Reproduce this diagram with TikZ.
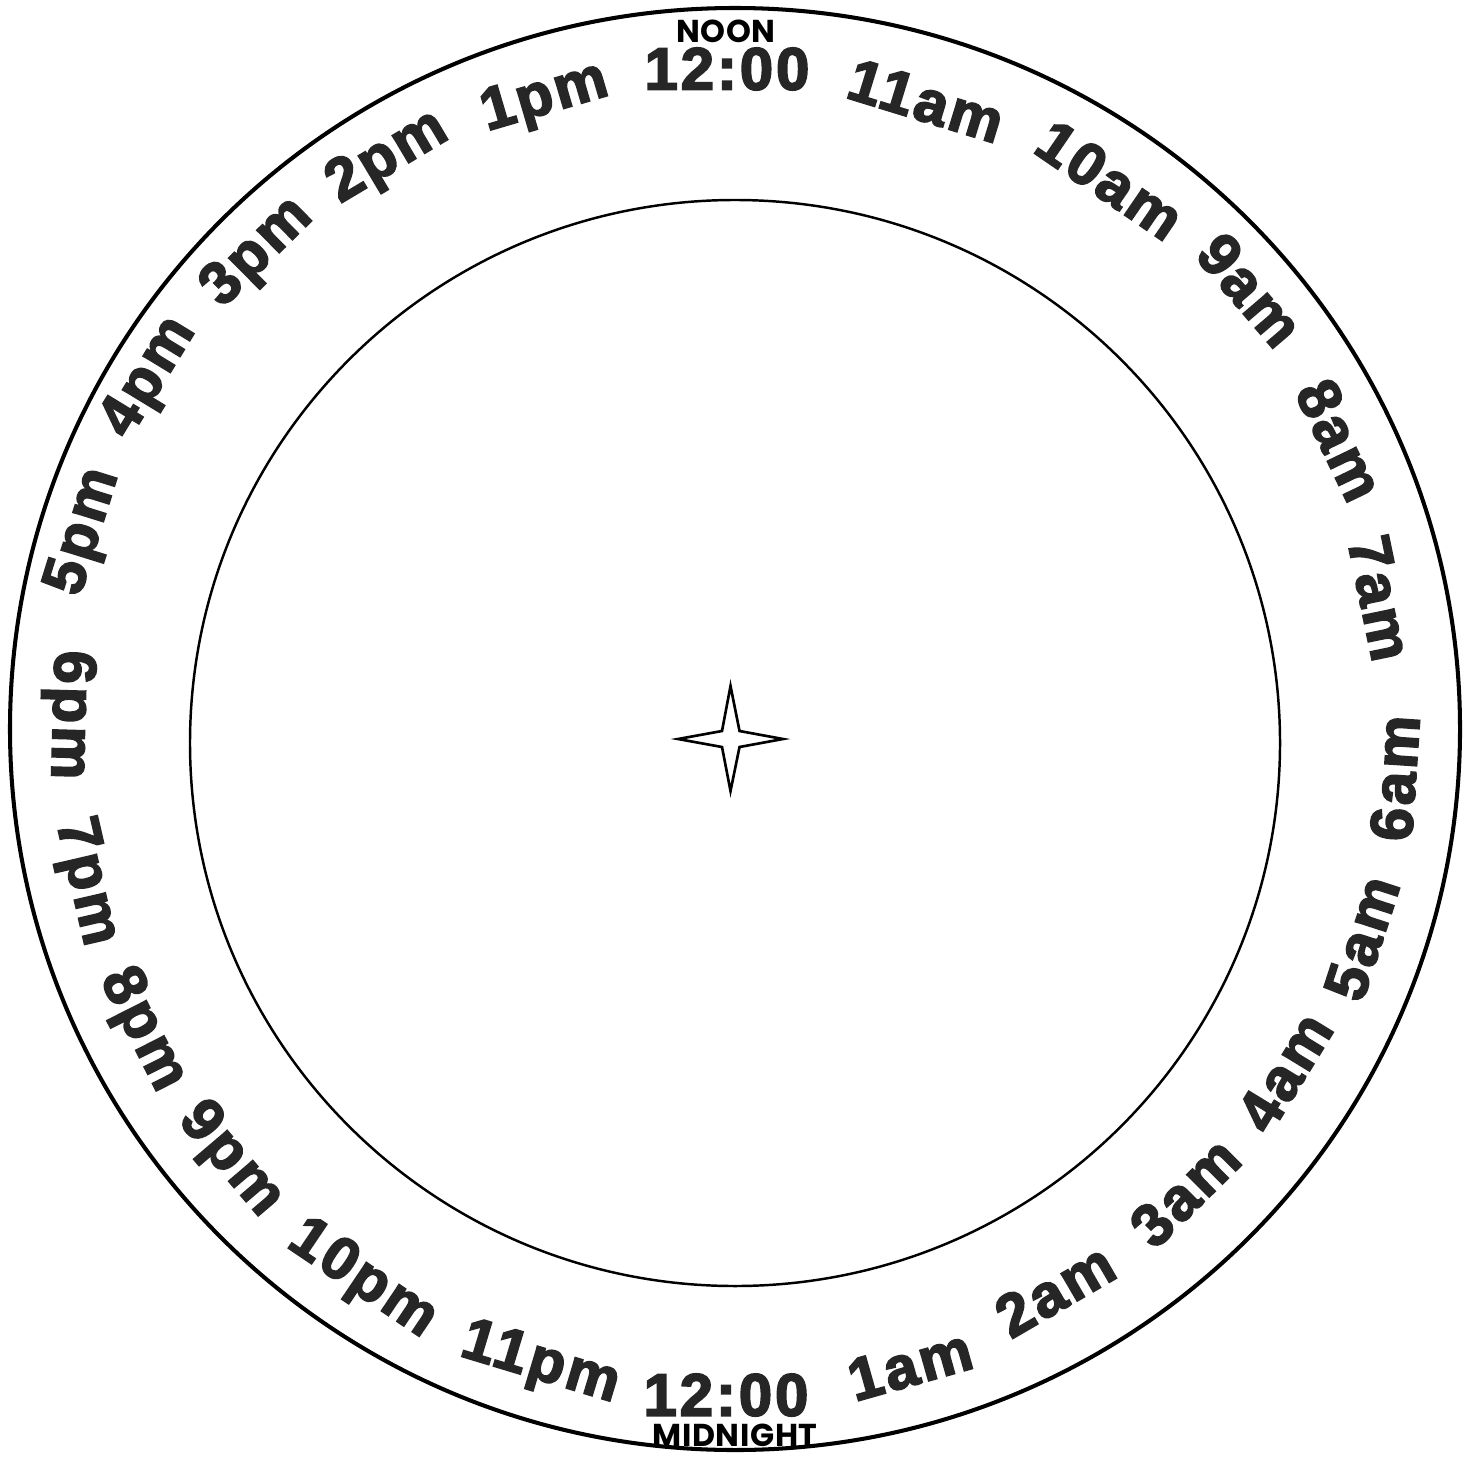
\documentclass[tikz,border=0pt]{standalone}
\usepackage{fontspec}
\setmainfont{Liberation Sans}
\newfontfamily\dialfont{Liberation Sans}[FakeBold=3,LetterSpace=5]
\newfontfamily\geofont{Poppins}[LetterSpace=2]
\begin{document}
\begin{tikzpicture}[x=0.01cm,y=-0.01cm,
  lbl/.style={inner sep=0pt, text=black!85, font=\dialfont\bfseries\fontsize{17pt}{17pt}\selectfont},
  captext/.style={inner sep=0pt, text=black, font=\geofont\bfseries\fontsize{9pt}{9pt}\selectfont},
  ring/.style={draw=black}]
\useasboundingbox[fill=white] (0,0) rectangle (1471,1458);
% rings
\draw[ring, line width=1.15pt] (735,729) ellipse [x radius=725, y radius=721];
\draw[ring, line width=0.7pt] (735,743) ellipse [x radius=545, y radius=543];
% centre star
\draw[line width=0.75pt, line join=miter] (730.5,686) -- (739.5,731) -- (783,739) -- (739.5,747)
  -- (730.5,791) -- (722,747) -- (678,739) -- (722,731) -- cycle;
% captions
\node[captext] (noon) at (726,31) {NOON};
\node[captext] (midnight) at (735,1435) {MIDNIGHT};
% hour labels, upper half
\node[lbl] (h12top) at (727,69) {12:00};
\node[lbl, rotate=-17.1] (h11am) at (926,101) {11am};
\node[lbl, rotate=-34.4] (h10am) at (1110,180) {10am};
\node[lbl, rotate=-49.5] (h9am) at (1250,290) {9am};
\node[lbl, rotate=-64.3] (h8am) at (1340,440) {8am};
\node[lbl, rotate=-78.3] (h7am) at (1380,598) {7am};
\node[lbl, rotate=16.4] (h1pm) at (545,99) {1pm};
\node[lbl, rotate=30.8] (h2pm) at (388,158) {2pm};
\node[lbl, rotate=44.6] (h3pm) at (258,253) {3pm};
\node[lbl, rotate=58.6] (h4pm) at (150,378) {4pm};
\node[lbl, rotate=72.7] (h5pm) at (85,532) {5pm};
% hour labels, lower half
\node[lbl, rotate=86.1] (h6am) at (1395,778) {6am};
\node[lbl, rotate=72] (h5am) at (1362,938) {5am};
\node[lbl, rotate=58.5] (h4am) at (1285,1072) {4am};
\node[lbl, rotate=44.7] (h3am) at (1185,1192) {3am};
\node[lbl, rotate=30.2] (h2am) at (1055,1290) {2am};
\node[lbl, rotate=15.8] (h1am) at (910,1365) {1am};
\node[lbl] (h12bot) at (726,1395) {12:00};
\node[lbl, rotate=-16.8] (h11pm) at (540,1365) {11pm};
\node[lbl, rotate=-34] (h10pm) at (362,1280) {10pm};
\node[lbl, rotate=-49.6] (h9pm) at (230,1160) {9pm};
\node[lbl, rotate=-63.2] (h8pm) at (142,1030) {8pm};
\node[lbl, rotate=-77] (h7pm) at (85,882) {7pm};
\node[lbl, rotate=-91.6] (h6pm) at (68,715) {6pm};
\end{tikzpicture}
\end{document}
